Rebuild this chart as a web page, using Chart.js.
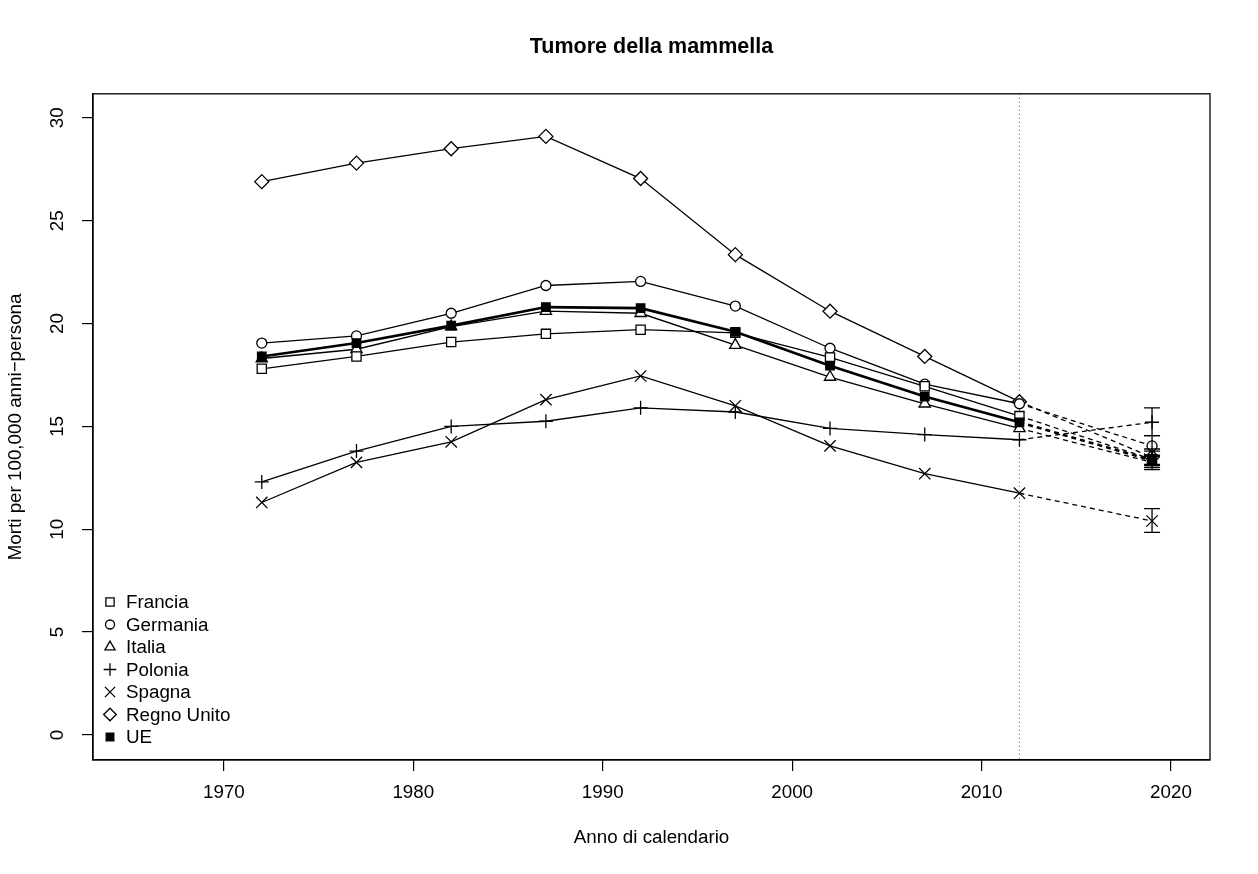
<!DOCTYPE html>
<html>
<head>
<meta charset="utf-8">
<title>Tumore della mammella</title>
<script src="https://cdn.jsdelivr.net/npm/chart.js@4.4.1/dist/chart.umd.min.js"></script>
<style>
  html, body { margin: 0; padding: 0; background: #fff; }
</style>
</head>
<body>
<canvas id="chart" width="1258" height="874"></canvas>
<script>
// observed periods (centre of 5-year windows)
const years = [1972, 1977, 1982, 1987, 1992, 1997, 2002, 2007, 2012];
const predYear = 2019;
const cutYear = 2012;

const francia    = [17.8, 18.4, 19.1, 19.5, 19.7, 19.55, 18.35, 16.95, 15.5];
const germania   = [19.05, 19.4, 20.5, 21.85, 22.05, 20.85, 18.8, 17.05, 16.1];
const italia     = [18.3, 18.75, 19.85, 20.6, 20.5, 18.95, 17.4, 16.1, 14.9];
const polonia    = [12.3, 13.8, 15.0, 15.25, 15.9, 15.7, 14.9, 14.6, 14.35];
const spagna     = [11.3, 13.25, 14.25, 16.3, 17.45, 16.0, 14.05, 12.7, 11.75];
const regnoUnito = [26.9, 27.8, 28.5, 29.1, 27.05, 23.35, 20.6, 18.4, 16.2];
const ue         = [18.4, 19.05, 19.9, 20.8, 20.75, 19.6, 17.95, 16.45, 15.2];

const countries = ['Francia', 'Germania', 'Italia', 'Polonia', 'Spagna', 'Regno Unito', 'UE'];
const observed  = [francia, germania, italia, polonia, spagna, regnoUnito, ue];

// 2019 predictions with interval
const predValues = [13.4, 14.05, 13.25, 15.2, 10.4, 13.5, 13.35];
const predLow    = [13.0, 13.55, 12.9, 14.55, 9.85, 13.1, 13.15];
const predHigh   = [13.8, 14.55, 13.6, 15.9, 11.0, 13.9, 13.55];

const xTicks = [1970, 1980, 1990, 2000, 2010, 2020];
const yTicks = [0, 5, 10, 15, 20, 25, 30];

const FONT = "'Liberation Sans', Arial, Helvetica, sans-serif";
const styles = ['rect', 'circle', 'triangle', 'cross', 'crossRot', 'rectRot', 'rect'];
const radii  = [6.5, 5, 6.5, 7, 8, 7, 6];

const datasets = countries.map((name, i) =>
{
    const isUE = name === 'UE';
    const points = years.map((yr, k) => ({ x: yr, y: observed[i][k] }));
    points.push({ x: predYear, y: predValues[i] });

    return {
        label: name,
        data: points,
        borderColor: '#000',
        borderWidth: isUE ? 2.6 : 1.3,
        pointStyle: styles[i],
        pointRadius: radii[i],
        pointBorderWidth: 1.3,
        pointBorderColor: '#000',
        pointBackgroundColor: isUE ? '#000' : '#fff',
        tension: 0,
        fill: false,
        clip: false,
        order: isUE ? 0 : 1,
        segment: {
            borderDash: ctx => ctx.p1DataIndex === years.length ? [5, 4] : undefined
        }
    };
});

const extras = {
    id: 'extras',
    beforeDatasetsDraw(chart)
    {
        const { ctx, chartArea: a, scales: { x } } = chart;
        const px = x.getPixelForValue(cutYear);

        ctx.save();
        ctx.strokeStyle = '#555';
        ctx.lineWidth = 1;
        ctx.setLineDash([1, 3]);
        ctx.beginPath();
        ctx.moveTo(px, a.top);
        ctx.lineTo(px, a.bottom);
        ctx.stroke();
        ctx.restore();
    },
    afterDatasetsDraw(chart)
    {
        const { ctx, scales: { x, y } } = chart;
        const px = x.getPixelForValue(predYear);

        ctx.save();
        ctx.strokeStyle = '#000';
        ctx.lineWidth = 1.3;
        predLow.forEach((lo, i) =>
        {
            const y0 = y.getPixelForValue(lo);
            const y1 = y.getPixelForValue(predHigh[i]);
            ctx.beginPath();
            ctx.moveTo(px, y0); ctx.lineTo(px, y1);
            ctx.moveTo(px - 8, y0); ctx.lineTo(px + 8, y0);
            ctx.moveTo(px - 8, y1); ctx.lineTo(px + 8, y1);
            ctx.stroke();
        });
        ctx.restore();
    },
    afterDraw(chart)
    {
        const { ctx, chartArea: a, scales: { y } } = chart;

        ctx.save();
        // box round the plot
        ctx.strokeStyle = '#000';
        ctx.lineWidth = 1.3;
        ctx.strokeRect(a.left, a.top, a.right - a.left, a.bottom - a.top);

        // y tick labels, rotated like R
        ctx.fillStyle = '#000';
        ctx.font = '18.8px ' + FONT;
        ctx.textAlign = 'center';
        ctx.textBaseline = 'middle';
        yTicks.forEach(v =>
        {
            ctx.save();
            ctx.translate(a.left - 35, y.getPixelForValue(v));
            ctx.rotate(-Math.PI / 2);
            ctx.fillText(String(v), 0, 0);
            ctx.restore();
        });

        // legend, bottom left inside the plot
        const step = 22.5;
        const top = a.bottom - 23 - step * (countries.length - 1);
        ctx.textAlign = 'left';
        countries.forEach((name, i) =>
        {
            const cy = top + i * step;
            ctx.fillStyle = name === 'UE' ? '#000' : '#fff';
            ctx.strokeStyle = '#000';
            ctx.lineWidth = 1.3;
            Chart.helpers.drawPoint(ctx, {
                pointStyle: styles[i],
                radius: radii[i] * 0.9,
                rotation: 0,
                borderWidth: 1.3
            }, a.left + 17, cy);
            ctx.fillStyle = '#000';
            ctx.fillText(name, a.left + 33, cy + 1);
        });
        ctx.restore();
    }
};

new Chart(document.getElementById('chart'), {
    type: 'line',
    data: { datasets },
    plugins: [extras],
    options: {
        responsive: false,
        animation: false,
        events: [],
        layout: { padding: { top: 0, right: 48, bottom: 0, left: 0 } },
        plugins: {
            legend: { display: false },
            tooltip: { enabled: false },
            title: {
                display: true,
                text: 'Tumore della mammella',
                fullSize: false,
                color: '#000',
                font: { family: FONT, size: 21.5, weight: 'bold' },
                padding: { top: 34, bottom: 34 }
            }
        },
        scales: {
            x: {
                type: 'linear',
                min: 1963.09,
                max: 2022.06,
                afterBuildTicks: s => { s.ticks = xTicks.map(v => ({ value: v })); },
                afterFit: s => { s.height = 114; },
                ticks: {
                    color: '#000',
                    padding: 10.5,
                    maxRotation: 0,
                    font: { family: FONT, size: 18.8 },
                    callback: v => String(v)
                },
                grid: { drawOnChartArea: false, drawTicks: true, tickLength: 11, color: '#000', lineWidth: 1.2 },
                border: { display: true, color: '#000', width: 1.3 },
                title: {
                    display: true,
                    text: 'Anno di calendario',
                    color: '#000',
                    font: { family: FONT, size: 18.8 },
                    padding: { top: 0, bottom: 24.5 }
                }
            },
            y: {
                type: 'linear',
                min: -1.22,
                max: 31.17,
                afterBuildTicks: s => { s.ticks = yTicks.map(v => ({ value: v })); },
                afterFit: s => { s.width = 93; },
                ticks: { display: false },
                grid: { drawOnChartArea: false, drawTicks: true, tickLength: 11, color: '#000', lineWidth: 1.2 },
                border: { display: true, color: '#000', width: 1.3 },
                title: {
                    display: true,
                    text: 'Morti per 100,000 anni\u2212persona',
                    color: '#000',
                    font: { family: FONT, size: 18.8 },
                    padding: { top: 4.5, bottom: 0 }
                }
            }
        }
    }
});
</script>
</body>
</html>
